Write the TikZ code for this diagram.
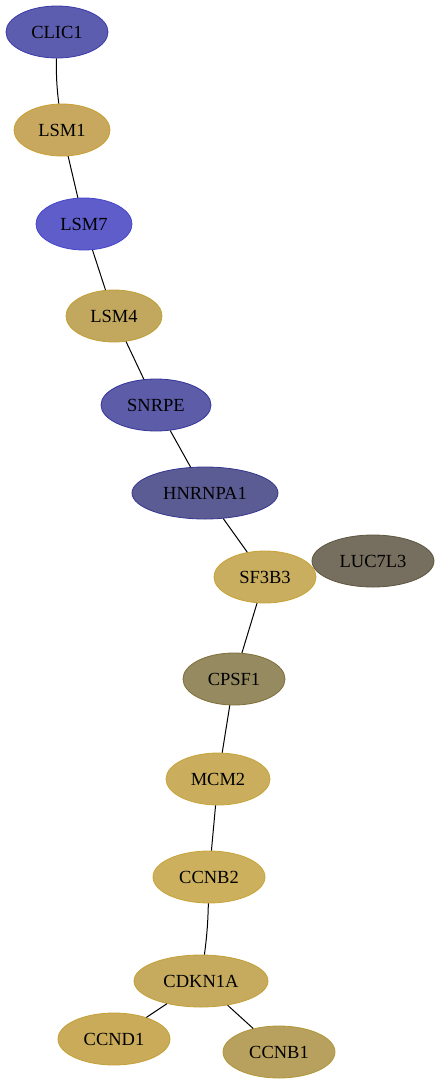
\documentclass[tikz,border=0pt]{standalone}
\usepackage{fontspec}
\setmainfont{Liberation Serif}
\usetikzlibrary{shapes.geometric}
\definecolor{cA}{HTML}{5C5DAF}\definecolor{bA}{HTML}{3A3AA8}
\definecolor{cB}{HTML}{C8A85E}\definecolor{bB}{HTML}{C8A030}
\definecolor{cC}{HTML}{5E5DCA}\definecolor{bC}{HTML}{4444CC}
\definecolor{cD}{HTML}{C2A85E}\definecolor{bD}{HTML}{BFA035}
\definecolor{cE}{HTML}{5C5CA8}\definecolor{bE}{HTML}{35359A}
\definecolor{cF}{HTML}{5C5C94}\definecolor{bF}{HTML}{35358F}
\definecolor{cG}{HTML}{C8AE5E}\definecolor{bG}{HTML}{C8A235}
\definecolor{cH}{HTML}{766E5E}\definecolor{bH}{HTML}{5E5640}
\definecolor{cI}{HTML}{968A60}\definecolor{bI}{HTML}{7E6E38}
\definecolor{cJ}{HTML}{CAAE5E}\definecolor{bJ}{HTML}{C8A438}
\definecolor{cK}{HTML}{CCB05E}\definecolor{bK}{HTML}{C8A438}
\definecolor{cL}{HTML}{C6AA5E}\definecolor{bL}{HTML}{C4A038}
\definecolor{cM}{HTML}{C9AB5A}\definecolor{bM}{HTML}{C4A035}
\definecolor{cN}{HTML}{B8A05E}\definecolor{bN}{HTML}{B09838}
\tikzset{
  gene/.style={ellipse, inner sep=0pt, minimum height=52pt, line width=0.8pt, font=\fontsize{18.5}{20}\selectfont},
  link/.style={draw=black, line width=1pt}
}
\begin{document}
\begin{tikzpicture}[x=1pt,y=-1pt]
\useasboundingbox (0,0) rectangle (441,1085);
\node[gene, fill=cA, draw=bA, minimum width=102pt] (clic1) at (57,32) {CLIC1};
\node[gene, fill=cB, draw=bB, minimum width=96pt] (lsm1) at (62,130) {LSM1};
\node[gene, fill=cC, draw=bC, minimum width=96pt] (lsm7) at (84,224) {LSM7};
\node[gene, fill=cD, draw=bD, minimum width=96pt] (lsm4) at (114,316) {LSM4};
\node[gene, fill=cE, draw=bE, minimum width=110pt] (snrpe) at (156,405) {SNRPE};
\node[gene, fill=cF, draw=bF, minimum width=146pt] (hnrnpa1) at (205,493) {HNRNPA1};
\node[gene, fill=cG, draw=bG, minimum width=102pt] (sf3b3) at (265,577) {SF3B3};
\node[gene, fill=cH, draw=bH, minimum width=122pt] (luc7l3) at (373,561) {LUC7L3};
\node[gene, fill=cI, draw=bI, minimum width=102pt] (cpsf1) at (234,679) {CPSF1};
\node[gene, fill=cJ, draw=bJ, minimum width=104pt] (mcm2) at (218,779) {MCM2};
\node[gene, fill=cK, draw=bK, minimum width=112pt] (ccnb2) at (209,877) {CCNB2};
\node[gene, fill=cL, draw=bL, minimum width=134pt] (cdkn1a) at (201,981) {CDKN1A};
\node[gene, fill=cM, draw=bM, minimum width=112pt] (ccnd1) at (114,1039) {CCND1};
\node[gene, fill=cN, draw=bN, minimum width=112pt] (ccnb1) at (279,1052) {CCNB1};
\draw[link] (clic1) to[bend right=4] (lsm1);
\draw[link] (lsm1) -- (lsm7);
\draw[link] (lsm7) -- (lsm4);
\draw[link] (lsm4) -- (snrpe);
\draw[link] (snrpe) -- (hnrnpa1);
\draw[link] (hnrnpa1) -- (sf3b3);
\draw[link] (sf3b3) -- (cpsf1);
\draw[link] (cpsf1) -- (mcm2);
\draw[link] (mcm2) -- (ccnb2);
\draw[link] (ccnb2) to[bend left=3] (cdkn1a);
\draw[link] (cdkn1a) -- (ccnd1);
\draw[link] (cdkn1a) -- (ccnb1);
\end{tikzpicture}
\end{document}
